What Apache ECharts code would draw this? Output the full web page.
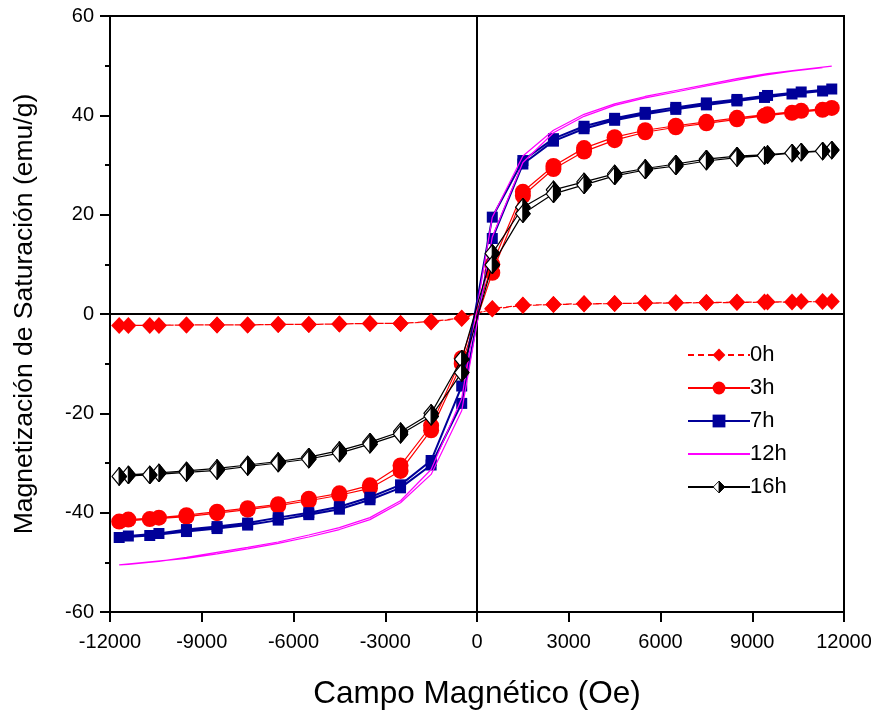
<!DOCTYPE html>
<html>
<head>
<meta charset="utf-8">
<script src="https://cdn.jsdelivr.net/npm/echarts@6/dist/echarts.min.js"></script>
<style>
html,body{margin:0;padding:0;background:#fff;}
#chart{width:871px;height:719px;}
</style>
</head>
<body>
<div id="chart"></div>
<script>
// Field values (Oe): descending branch (+H -> -H) and ascending branch (-H -> +H)
const fieldDown = [11600, 10600, 9500, 8500, 7500, 6500, 5500, 4500, 3500, 2500, 1500, 500, -500, -1500, -2500, -3500, -4500, -5500, -6500, -7500, -8500, -9500, -10400, -11400];
const fieldUp = [-11700, -10700, -9500, -8500, -7500, -6500, -5500, -4500, -3500, -2500, -1500, -500, 500, 1500, 2500, 3500, 4500, 5500, 6500, 7500, 8500, 9400, 10300, 11300];

const seriesNames = ['0h', '3h', '7h', '12h', '16h'];

// Magnetization (emu/g)
const m0hDown = [2.5, 2.5, 2.4, 2.4, 2.3, 2.3, 2.2, 2.1, 2.1, 1.9, 1.8, 1.1, -0.8, -1.5, -1.9, -1.9, -2.0, -2.1, -2.1, -2.2, -2.2, -2.2, -2.3, -2.3];
const m0hUp = [-2.3, -2.3, -2.2, -2.2, -2.2, -2.1, -2.1, -2.0, -1.9, -1.9, -1.6, -0.9, 1.0, 1.7, 1.9, 2.0, 2.1, 2.2, 2.2, 2.3, 2.3, 2.4, 2.4, 2.5];

const m3hDown = [41.5, 40.9, 40.2, 39.5, 38.7, 37.9, 37.0, 35.6, 33.4, 29.8, 24.6, 10.0, -8.9, -22.5, -30.5, -34.5, -36.1, -37.2, -38.3, -39.1, -39.8, -40.5, -41.0, -41.4];
const m3hUp = [-41.8, -41.3, -40.8, -40.1, -39.4, -38.6, -37.6, -36.5, -35.1, -31.6, -23.4, -10.0, 8.3, 23.8, 29.2, 32.7, 35.0, 36.6, 37.6, 38.4, 39.2, 39.9, 40.5, 41.1];

const m7hDown = [45.3, 44.7, 44.0, 43.2, 42.5, 41.6, 40.6, 39.4, 37.8, 35.3, 30.9, 19.5, -14.5, -29.5, -34.4, -36.9, -38.8, -40.0, -41.0, -42.1, -42.8, -43.4, -44.2, -44.7];
const m7hUp = [-45.0, -44.6, -43.8, -43.2, -42.5, -41.5, -40.4, -39.3, -37.4, -35.0, -30.4, -18.0, 15.2, 30.2, 34.8, 37.3, 39.0, 40.2, 41.2, 42.1, 42.9, 43.6, 44.3, 44.9];

const m12hDown = [49.9, 49.2, 48.4, 47.4, 46.2, 45.0, 43.8, 42.3, 40.2, 37.0, 31.8, 19.5, -17.0, -31.3, -37.6, -41.0, -43.0, -44.5, -45.9, -47.0, -48.0, -49.0, -49.8, -50.4];
const m12hUp = [-50.5, -49.9, -49.2, -48.3, -47.3, -46.2, -44.9, -43.4, -41.4, -38.0, -32.3, -19.5, 15.5, 30.5, 36.5, 39.8, 42.0, 43.5, 44.7, 45.9, 47.1, 48.1, 48.9, 49.6];

const m16hDown = [33.0, 32.6, 32.1, 31.8, 31.2, 30.2, 29.3, 28.2, 26.6, 25.0, 21.5, 12.2, -9.1, -20.0, -23.7, -25.8, -27.5, -28.8, -29.7, -30.4, -31.1, -31.6, -32.0, -32.4];
const m16hUp = [-32.7, -32.4, -31.9, -31.5, -30.7, -30.0, -29.2, -28.0, -26.2, -24.2, -20.6, -11.8, 9.9, 20.2, 24.2, 26.0, 27.8, 29.0, 29.8, 30.8, 31.5, 31.9, 32.4, 32.8];

const xTicks = {min: -12000, max: 12000, interval: 3000};
const yTicks = {min: -60, max: 60, interval: 20};

function loop(down, up) {
  return fieldDown.map((x, i) => [x, down[i]]).concat(fieldUp.map((x, i) => [x, up[i]]));
}

const halfDiamond = 'image://data:image/svg+xml;charset=utf-8,' + encodeURIComponent(
  '<svg xmlns="http://www.w3.org/2000/svg" width="32" height="38" viewBox="0 0 32 38">' +
  '<polygon points="16,1.5 30.5,19 16,36.5 1.5,19" fill="#ffffff" stroke="#000000" stroke-width="2.4"/>' +
  '<polygon points="16,1.5 30.5,19 16,36.5" fill="#000000" stroke="#000000" stroke-width="2.4"/>' +
  '</svg>');

const FONT = 'Arial, "Liberation Sans", sans-serif';
const chart = echarts.init(document.getElementById('chart'), null, {renderer: 'canvas'});

const legendData = seriesNames.map(n => n === '12h' ? {name: n, itemStyle: {opacity: 0}} : n);

const option = {
  animation: false,
  backgroundColor: '#ffffff',
  grid: {left: 110, right: 27, top: 16, bottom: 107, show: true, borderColor: '#000', borderWidth: 2, backgroundColor: 'transparent', outerBoundsMode: 'none', containLabel: false},
  legend: {
    orient: 'vertical',
    left: 682,
    top: 338,
    itemWidth: 62,
    itemHeight: 16,
    itemGap: 9,
    textStyle: {fontFamily: FONT, fontSize: 22, color: '#000', lineHeight: 24, padding: [0, 0, 0, -5]},
    data: legendData
  },
  xAxis: {
    type: 'value',
    min: xTicks.min, max: xTicks.max, interval: xTicks.interval,
    name: 'Campo Magnético (Oe)',
    nameLocation: 'middle',
    nameGap: 66,
    nameTextStyle: {fontFamily: FONT, fontSize: 31.5, color: '#000'},
    axisLine: {onZero: false, lineStyle: {color: '#000', width: 2}},
    axisTick: {show: true, inside: false, length: 10, lineStyle: {color: '#000', width: 2}},
    axisLabel: {fontFamily: FONT, fontSize: 20, color: '#000', margin: 20, formatter: function (v) { return String(v); }},
    splitLine: {show: false}
  },
  yAxis: {
    type: 'value',
    min: yTicks.min, max: yTicks.max, interval: yTicks.interval,
    name: 'Magnetización de Saturación (emu/g)',
    nameLocation: 'middle',
    nameGap: 72,
    nameTextStyle: {fontFamily: FONT, fontSize: 26.5, color: '#000'},
    axisLine: {onZero: false, lineStyle: {color: '#000', width: 2}},
    axisTick: {show: true, inside: false, length: 10, lineStyle: {color: '#000', width: 2}},
    minorTick: {show: true, splitNumber: 2, length: 5, lineStyle: {color: '#000', width: 2}},
    axisLabel: {fontFamily: FONT, fontSize: 20, color: '#000', margin: 16, formatter: function (v) { return String(v); }},
    splitLine: {show: false},
    minorSplitLine: {show: false}
  },
  series: [
    {
      name: '0h', type: 'line', data: loop(m0hDown, m0hUp),
      symbol: 'diamond', symbolSize: [16, 17],
      itemStyle: {color: '#ff0000'},
      lineStyle: {color: '#ff0000', width: 1.2, type: [6, 4]},
      z: 3,
      markLine: {
        silent: true, symbol: 'none', animation: false,
        label: {show: false},
        lineStyle: {color: '#000', width: 2, type: 'solid'},
        data: [{xAxis: 0}, {yAxis: 0}],
        z: 1
      }
    },
    {
      name: '3h', type: 'line', data: loop(m3hDown, m3hUp),
      symbol: 'circle', symbolSize: 16,
      itemStyle: {color: '#ff0000'},
      lineStyle: {color: '#ff0000', width: 1.2},
      z: 4
    },
    {
      name: '7h', type: 'line', data: loop(m7hDown, m7hUp),
      symbol: 'rect', symbolSize: 11,
      itemStyle: {color: '#000099'},
      lineStyle: {color: '#000099', width: 2},
      z: 5
    },
    {
      name: '12h', type: 'line', data: loop(m12hDown, m12hUp),
      symbol: 'none',
      itemStyle: {color: '#ff00ff'},
      lineStyle: {color: '#ff00ff', width: 1.2},
      z: 6
    },
    {
      name: '16h', type: 'line', data: loop(m16hDown, m16hUp),
      symbol: halfDiamond, symbolSize: [16, 19],
      itemStyle: {color: '#000000'},
      lineStyle: {color: '#000000', width: 1.2},
      z: 7
    }
  ]
};
chart.setOption(option);
</script>
</body>
</html>
